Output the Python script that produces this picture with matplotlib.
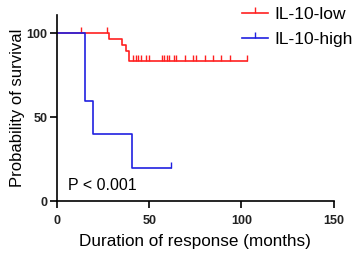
import matplotlib.pyplot as plt

plt.rcParams['font.family'] = ['Liberation Sans', 'DejaVu Sans']

# Kaplan-Meier step data (months, % survival)
low_t = [0, 28, 35, 37.5, 39, 103]
low_s = [100, 96.6, 93.1, 89.7, 83.4, 83.4]
low_cens_t = [13, 27, 41.3, 42.6, 43.7, 45.8, 48.5, 49.9, 56.7, 57.9, 59.4,
              60.8, 63.5, 64.8, 69.3, 73.8, 75.6, 80.1, 84.6, 89.2, 93.7, 103]
low_cens_s = [100, 100] + [83.4] * 20

high_t = [0, 15.2, 19.7, 40.4, 61.7]
high_s = [100, 60, 40, 20, 20]
high_cens_t = [61.7]
high_cens_s = [20]

red = '#ff2020'
blue = '#2020e0'
up_tick = [(0, 0), (0, 1)]

fig = plt.figure(figsize=(3.59, 2.54), dpi=100)
ax = fig.add_axes([0.159, 0.207, 0.77, 0.734])

ax.step(low_t, low_s, where='post', color=red, lw=1.2)
ax.plot(low_cens_t, low_cens_s, ls='none', marker=up_tick, ms=9, mew=1,
        color=red)
ax.step(high_t, high_s, where='post', color=blue, lw=1.2)
ax.plot(high_cens_t, high_cens_s, ls='none', marker=up_tick, ms=9, mew=1,
        color=blue)

# legend handles
ax.plot([], [], color=red, marker=up_tick, ms=9, lw=1.2, label='IL-10-low')
ax.plot([], [], color=blue, marker=up_tick, ms=9, lw=1.2, label='IL-10-high')
h, l = ax.get_legend_handles_labels()
ax.legend(h, l, loc='upper left', bbox_to_anchor=(242 / 359, 1 - 6.5 / 254),
          bbox_transform=fig.transFigure, frameon=False, fontsize=12.5,
          handlelength=1.5, handletextpad=0.35, labelspacing=0.58,
          borderpad=0, borderaxespad=0)

ax.set_xlim(0, 150)
ax.set_ylim(0, 111)
ax.set_xticks([0, 50, 100, 150])
ax.set_yticks([0, 50, 100])
for s in ['top', 'right']:
    ax.spines[s].set_visible(False)
for s in ['left', 'bottom']:
    ax.spines[s].set_linewidth(1.2)
ax.tick_params(direction='out', length=5, width=1.2, labelsize=9,
               labelcolor='#222222')
ax.tick_params(axis='x', pad=5)
ax.tick_params(axis='y', pad=2)
for t in ax.get_xticklabels() + ax.get_yticklabels():
    t.set_fontweight('bold')

ax.set_xlabel('Duration of response (months)', fontsize=12.3, labelpad=5)
ax.set_ylabel('Probability of survival', fontsize=12, labelpad=1)
ax.text(6, 7, 'P < 0.001', fontsize=11.5)

fig.savefig('out.png', dpi=100)
